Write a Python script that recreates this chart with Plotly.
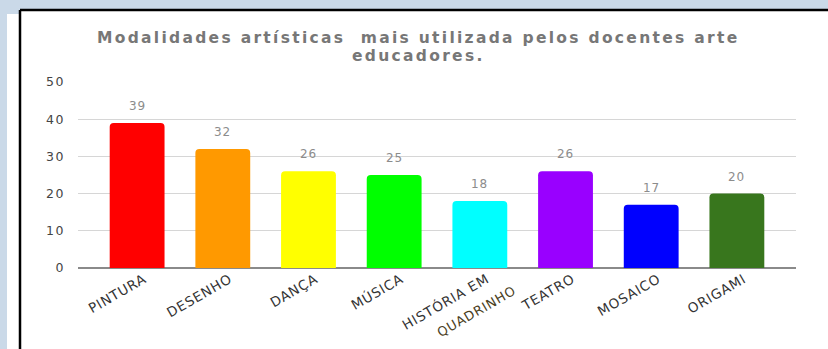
import plotly.graph_objects as go

# Modalidades artísticas e número de docentes que as utilizam
categorias = ["PINTURA", "DESENHO", "DANÇA", "MÚSICA", "HISTÓRIA EM QUADRINHO",
              "TEATRO", "MOSAICO", "ORIGAMI"]
rotulos_eixo = ["PINTURA", "DESENHO", "DANÇA", "MÚSICA", "HISTÓRIA EM",
                "TEATRO", "MOSAICO", "ORIGAMI"]
valores = [39, 32, 26, 25, 18, 26, 17, 20]
cores = ["#ff0000", "#ff9900", "#ffff00", "#00ff00", "#00ffff",
         "#9900ff", "#0000ff", "#38761d"]
y_ticks = [0, 10, 20, 30, 40, 50]
titulo = ["Modalidades artísticas  mais utilizada pelos docentes arte",
          "educadores."]

W, H = 828, 349
# plot area in pixels
L, R, T, B = 78, 796, 82, 268


def px_x(p):
    return (p - L) / (R - L)


def px_y(p):
    return (B - p) / (B - T)


def espacado(texto, px):
    return '<span style="letter-spacing:%spx">%s</span>' % (px, texto)


FONT = "DejaVu Sans, Arial, sans-serif"

fig = go.Figure()
fig.add_trace(go.Bar(
    x=categorias,
    y=valores,
    marker=dict(color=cores, line=dict(width=0)),
    hoverinfo="x+y",
))

# value labels above each bar
annotations = []
for c, v in zip(categorias, valores):
    annotations.append(dict(
        x=c, y=v, xref="x", yref="y", text=espacado(v, 0.8), showarrow=False,
        yanchor="middle", yshift=17,
        font=dict(family=FONT, size=12, color="#8c8c8c"),
    ))

# second line of the "HISTÓRIA EM QUADRINHO" label
annotations.append(dict(
    x=3.96, y=px_y(311), xref="x", yref="paper",
    text=espacado("QUADRINHO", 0.8),
    showarrow=False, textangle=-30, xanchor="center", yanchor="middle",
    font=dict(family=FONT, size=13, color="#4b3f1e"),
))

# chart title, two centred lines with a little extra tracking
for linha, py in zip(titulo, [38, 56]):
    annotations.append(dict(
        x=px_x(418), y=px_y(py), xref="paper", yref="paper",
        text=espacado(linha, 2.3),
        showarrow=False, xanchor="center", yanchor="middle",
        font=dict(family=FONT, size=15.5, color="#777777", weight="bold"),
    ))

shapes = [
    # white panel with a black frame on the top and left
    dict(type="rect", xref="paper", yref="paper", layer="below",
         x0=px_x(7), x1=px_x(830), y0=px_y(14), y1=px_y(352),
         fillcolor="white", line=dict(width=0)),
    dict(type="rect", xref="paper", yref="paper", layer="below",
         x0=px_x(20), x1=px_x(830), y0=px_y(10), y1=px_y(352),
         fillcolor="white", line=dict(width=0)),
    dict(type="line", xref="paper", yref="paper", layer="above",
         x0=px_x(20), x1=px_x(832), y0=px_y(10), y1=px_y(10),
         line=dict(color="black", width=2.5)),
    dict(type="line", xref="paper", yref="paper", layer="above",
         x0=px_x(20), x1=px_x(20), y0=px_y(10), y1=px_y(352),
         line=dict(color="black", width=2.5)),
]

fig.update_layout(
    width=W, height=H,
    margin=dict(l=L, r=W - R, t=T, b=H - B, pad=0),
    paper_bgcolor="#cad9e8",
    plot_bgcolor="rgba(0,0,0,0)",
    showlegend=False,
    bargap=0.36,
    barcornerradius=4,
    xaxis=dict(
        range=[-0.69, 7.69],
        tickmode="array", tickvals=categorias,
        ticktext=[espacado(t, 0.8) for t in rotulos_eixo],
        tickangle=-30,
        tickfont=dict(family=FONT, size=13.5, color="#333333"),
        showgrid=False, showline=False, zeroline=False,
        ticks="", fixedrange=True, ticklabelstandoff=0, ticklabelshift=7,
    ),
    yaxis=dict(
        range=[0, 50],
        tickmode="array", tickvals=y_ticks,
        ticktext=[espacado(t, 1.5) for t in y_ticks],
        tickfont=dict(family=FONT, size=12.5, color="#444444"),
        showgrid=True, gridcolor="#d6d6d6", gridwidth=1,
        zeroline=True, zerolinecolor="#8a8a8a", zerolinewidth=1.5,
        showline=False, ticks="", ticklabelstandoff=12,
    ),
    annotations=annotations,
    shapes=shapes,
)

fig.write_html("out.html")
